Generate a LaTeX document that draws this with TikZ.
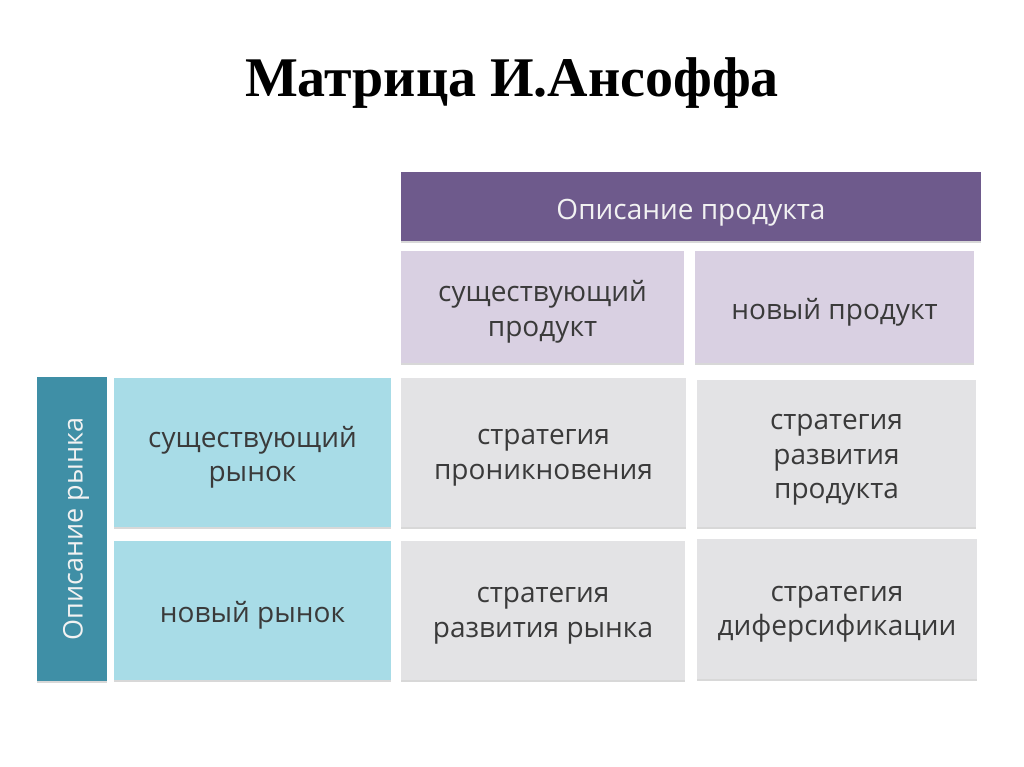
\documentclass[tikz,border=0pt]{standalone}
\usepackage{fontspec}
\setmainfont{Open Sans}
\newfontfamily\titlefont{Liberation Serif}
\usetikzlibrary{shadows}
\definecolor{hdrpurple}{HTML}{6E5A8C}
\definecolor{lightpurple}{HTML}{D9D0E2}
\definecolor{teal}{HTML}{3F8FA6}
\definecolor{lightblue}{HTML}{A8DCE7}
\definecolor{cellgray}{HTML}{E3E3E5}
\definecolor{txt}{HTML}{3A3A3A}
\tikzset{
  box/.style={rectangle, draw=none, inner sep=0pt,
    drop shadow={opacity=0.3, shadow xshift=0pt, shadow yshift=-2pt}},
  hdr/.style={box, fill=hdrpurple},
  prod/.style={box, fill=lightpurple},
  mkt/.style={box, fill=lightblue},
  side/.style={box, fill=teal},
  cell/.style={box, fill=cellgray},
  lblbase/.style={align=center, inner sep=0pt, text=txt,
    font=\fontsize{28}{34.5}\selectfont},
  lbl/.style={lblbase, yshift=-5pt},
  wlbl/.style={lblbase, text=white!95!black, yshift=-6pt},
}
\begin{document}
\begin{tikzpicture}[x=1pt,y=-1pt]
\useasboundingbox (0,0) rectangle (1024,767);
\fill[white] (0,0) rectangle (1024,767);
\node[font=\titlefont\bfseries\fontsize{56}{60}\selectfont, anchor=base] (title) at (512,97) {Матрица И.Ансоффа};
% header
\node[hdr, minimum width=580pt, minimum height=69pt] (hdr) at (691,206.5) {};
\node[wlbl] (hdrtext) at (hdr.center) {Описание продукта};
\node[prod, minimum width=283pt, minimum height=112pt] (p1) at (542.5,307) {};
\node[lbl] (p1text) at (p1.center) {существующий\\продукт};
\node[prod, minimum width=279pt, minimum height=112pt] (p2) at (834.5,307) {};
\node[lbl] (p2text) at (p2.center) {новый продукт};
% side
\node[side, minimum width=70pt, minimum height=304pt] (side) at (72,529) {};
\node[rotate=90, text=white!95!black, inner sep=0pt, font=\fontsize{27}{30}\selectfont] (sidetext) at ([xshift=4pt]side.center) {Описание рынка};
\node[mkt, minimum width=277pt, minimum height=149pt] (m1) at (252.5,452.5) {};
\node[lbl] (m1text) at (m1.center) {существующий\\рынок};
\node[mkt, minimum width=277pt, minimum height=139pt] (m2) at (252.5,610.5) {};
\node[lbl] (m2text) at (m2.center) {новый рынок};
% cells
\node[cell, minimum width=285pt, minimum height=149pt] (c11) at (543.5,452.5) {};
\node[lbl] (c11text) at (c11.center) {стратегия\\проникновения};
\node[cell, minimum width=279pt, minimum height=147pt] (c12) at (836.5,453.5) {};
\node[lbl, yshift=-1.5pt] (c12text) at (c12.center) {стратегия\\развития\\продукта};
\node[cell, minimum width=284pt, minimum height=139pt] (c21) at (543,610.5) {};
\node[lbl] (c21text) at (c21.center) {стратегия\\развития рынка};
\node[cell, minimum width=280pt, minimum height=140pt] (c22) at (837,609) {};
\node[lbl] (c22text) at (c22.center) {стратегия\\диферсификации};
\end{tikzpicture}
\end{document}
